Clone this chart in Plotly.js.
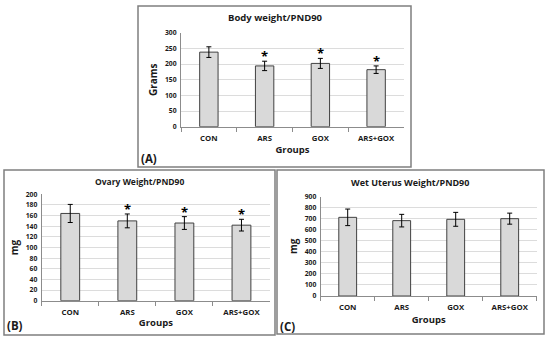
<!DOCTYPE html>
<html>
<head>
<meta charset="utf-8">
<script src="https://cdn.plot.ly/plotly-3.0.1.min.js"></script>
<style>html,body{margin:0;padding:0;background:#fff;}#chart{width:550px;height:340px;}</style>
</head>
<body>
<div id="chart"></div>
<script>
var groups = ["CON", "ARS", "GOX", "ARS+GOX"];

var bodyWeight = [238, 194, 202, 182];
var bodyWeightErr = [17, 15, 16, 12];
var bodyWeightSig = ["", "*", "*", "*"];

var ovaryWeight = [164, 150, 146, 142];
var ovaryWeightErr = [17, 13, 12, 11];
var ovaryWeightSig = ["", "*", "*", "*"];

var uterusWeight = [713, 683, 695, 701];
var uterusWeightErr = [75, 57, 63, 50];
var uterusWeightSig = ["", "", "", ""];

var panelTitles = ["Body weight/PND90", "Ovary Weight/PND90", "Wet Uterus Weight/PND90"];
var yTitles = ["Grams", "mg", "mg"];
var panelLabels = ["(A)", "(B)", "(C)"];

var FONT = "'Open Sans', Lato, sans-serif";

function barTrace(vals, errs, xa, ya) {
  return {
    type: "bar", x: groups, y: vals, xaxis: xa, yaxis: ya, width: 0.33,
    marker: {color: "#d9d9d9", line: {color: "#404040", width: 1}},
    error_y: {type: "data", array: errs, visible: true, color: "#000", thickness: 1, width: 2.5},
    hoverinfo: "skip", showlegend: false
  };
}

var data = [
  barTrace(bodyWeight, bodyWeightErr, "x", "y"),
  barTrace(ovaryWeight, ovaryWeightErr, "x2", "y2"),
  barTrace(uterusWeight, uterusWeightErr, "x3", "y3")
];

function xAxis(dom, anchor, standoff) {
  return {
    domain: dom, anchor: anchor, type: "category",
    showline: true, linecolor: "#8c8c8c", linewidth: 1,
    ticks: "outside", tickson: "boundaries", ticklen: 4, tickcolor: "#8c8c8c",
    ticklabelstandoff: 4,
    showgrid: false, zeroline: false,
    tickfont: {family: FONT, size: 7.8, color: "#1a1a1a", weight: "bold"},
    title: {text: "<b>Groups</b>", font: {family: FONT, size: 9.5, color: "#1a1a1a"}, standoff: standoff}
  };
}
function yAxis(dom, anchor, range, dtick, title) {
  return {
    domain: dom, anchor: anchor, range: range, dtick: dtick,
    showline: true, linecolor: "#8c8c8c", linewidth: 1,
    ticks: "", showgrid: true, gridcolor: "#dcdcdc", gridwidth: 1, zeroline: false,
    ticklabelstandoff: 2,
    tickfont: {family: FONT, size: 6.8, color: "#1a1a1a", weight: "bold"},
    title: {text: "<b>" + title + "</b>", font: {family: FONT, size: 10, color: "#1a1a1a"}, standoff: 5}
  };
}

var annotations = [];
function addStars(vals, errs, sig, xa, ya) {
  for (var i = 0; i < groups.length; i++) {
    if (!sig[i]) continue;
    annotations.push({
      x: groups[i], y: vals[i] + errs[i], xref: xa, yref: ya,
      text: "<b>" + sig[i] + "</b>", showarrow: false, yanchor: "bottom", yshift: -6,
      font: {family: FONT, size: 13, color: "#000"}
    });
  }
}
addStars(bodyWeight, bodyWeightErr, bodyWeightSig, "x", "y");
addStars(ovaryWeight, ovaryWeightErr, ovaryWeightSig, "x2", "y2");
addStars(uterusWeight, uterusWeightErr, uterusWeightSig, "x3", "y3");

function paperAnn(text, px, py, size, xanchor) {
  annotations.push({
    text: text, xref: "paper", yref: "paper", x: px / 550, y: 1 - py / 340,
    xanchor: xanchor || "center", yanchor: "middle", showarrow: false,
    font: {family: FONT, size: size, color: "#1a1a1a"}
  });
}
paperAnn("<b>" + panelTitles[0] + "</b>", 275, 17.5, 9.5);
paperAnn("<b>" + panelTitles[1] + "</b>", 140, 181, 8.5);
paperAnn("<b>" + panelTitles[2] + "</b>", 410, 182, 9);
paperAnn("<b>" + panelLabels[0] + "</b>", 139, 158, 11.5, "left");
paperAnn("<b>" + panelLabels[1] + "</b>", 5, 325, 11.5, "left");
paperAnn("<b>" + panelLabels[2] + "</b>", 278, 326, 11.5, "left");

function frame(x0, y0, x1, y1) {
  return {type: "rect", xref: "paper", yref: "paper",
    x0: x0 / 550, x1: x1 / 550, y0: 1 - y1 / 340, y1: 1 - y0 / 340,
    line: {color: "#7f7f7f", width: 1.5}, fillcolor: "rgba(0,0,0,0)"};
}

var layout = {
  width: 550, height: 340,
  margin: {l: 0, r: 0, t: 0, b: 0},
  paper_bgcolor: "#fff", plot_bgcolor: "#fff",
  showlegend: false, bargap: 0.67,
  xaxis: xAxis([181 / 550, 404 / 550], "y", 4),
  yaxis: yAxis([(340 - 126.7) / 340, (340 - 32.7) / 340], "x", [0, 300], 50, yTitles[0]),
  xaxis2: xAxis([41.7 / 550, 270 / 550], "y2", 3),
  yaxis2: yAxis([(340 - 300.7) / 340, (340 - 194.3) / 340], "x2", [0, 200], 20, yTitles[1]),
  xaxis3: xAxis([320.7 / 550, 536.7 / 550], "y3", 4),
  yaxis3: yAxis([(340 - 296) / 340, (340 - 196.7) / 340], "x3", [0, 900], 100, yTitles[2]),
  annotations: annotations,
  shapes: [frame(138, 6, 411, 167), frame(4, 170, 275, 335), frame(277, 170, 544, 334)]
};

Plotly.newPlot("chart", data, layout, {staticPlot: true, displayModeBar: false});
</script>
</body>
</html>
